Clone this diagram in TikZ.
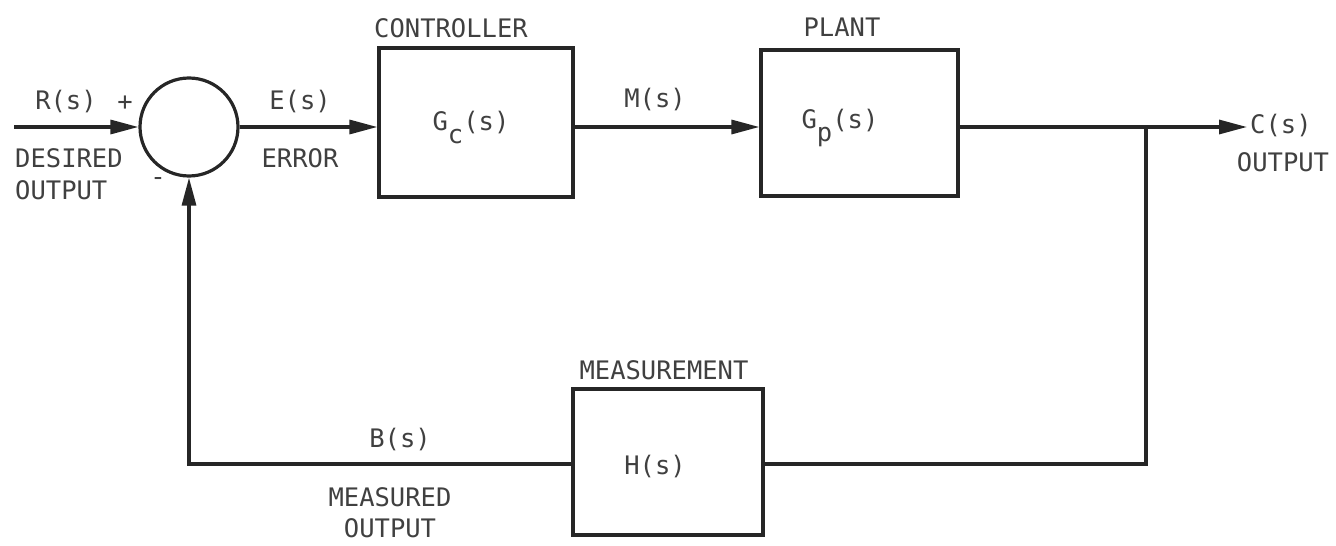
\documentclass[tikz,border=0pt]{standalone}
\usepackage{fontspec}
\setmonofont{DejaVu Sans Mono}
\usetikzlibrary{arrows.meta}
\tikzset{
  wire/.style={line width=3.2pt, draw=black!85},
  arr/.style={wire, -{Triangle[length=28pt,width=14pt]}},
  blk/.style={draw=black!85, line width=3.2pt, rectangle, inner sep=0pt, fill=white},
  lbl/.style={text=black!75, font=\ttfamily\fontsize{25.5}{32}\selectfont, inner sep=0pt},
}
\begin{document}
\begin{tikzpicture}[x=1pt,y=-1pt]
\useasboundingbox (0,0) rectangle (1336,546);
% blocks
\node[draw=black!85, line width=3.2pt, circle, minimum size=98pt, inner sep=0pt] (sum) at (189,127) {};
\node[blk, minimum width=194pt, minimum height=149pt] (ctrl) at (476,122.5) {};
\node[blk, minimum width=197pt, minimum height=146pt] (plant) at (859.5,123) {};
\node[blk, minimum width=190pt, minimum height=146pt] (meas) at (668,462) {};
% coordinates
\coordinate (in) at (14,127);
\coordinate (branch) at (1146,127);
\coordinate (out) at (1247,127);
\coordinate (fbR) at (1146,464);
\coordinate (fbL) at (189,464);
% connectors
\draw[arr] (in) -- (sum.west);
\draw[arr] (sum.east) -- (ctrl.west |- sum.east);
\draw[arr] (ctrl.east |- sum.east) -- (plant.west |- sum.east);
\draw[arr] (plant.east |- sum.east) -- (out);
\draw[wire] (branch) -- (fbR) -- (meas.east |- fbR);
\draw[arr] (meas.west |- fbR) -- (fbL) -- (sum.south);
% labels
\node[lbl] (rs) at (66,102) {R(s)};
\node[lbl] (plus) at (125,103) {+};
\node[lbl] (minus) at (158,181) {-};
\node[lbl, anchor=west] (des) at (15,158) {DESIRED};
\node[lbl, anchor=west] (desout) at (15,190) {OUTPUT};
\node[lbl] (es) at (300,102) {E(s)};
\node[lbl] (err) at (300,158) {ERROR};
\node[lbl] (ctrlname) at (451,28) {CONTROLLER};
\node[lbl] (gc) at (471,128) {G\raisebox{-13pt}{c}(s)};
\node[lbl] (ms) at (655,100) {M(s)};
\node[lbl] (plantname) at (842,27) {PLANT};
\node[lbl] (gp) at (840,128) {G\raisebox{-13pt}{p}(s)};
\node[lbl, anchor=west] (cs) at (1250,126) {C(s)};
\node[lbl] (outname) at (1283,162) {OUTPUT};
\node[lbl] (measname) at (664,370) {MEASUREMENT};
\node[lbl] (hs) at (655,467) {H(s)};
\node[lbl] (bs) at (400,440) {B(s)};
\node[lbl] (mo1) at (390,497) {MEASURED};
\node[lbl] (mo2) at (390,528) {OUTPUT};
\end{tikzpicture}
\end{document}
